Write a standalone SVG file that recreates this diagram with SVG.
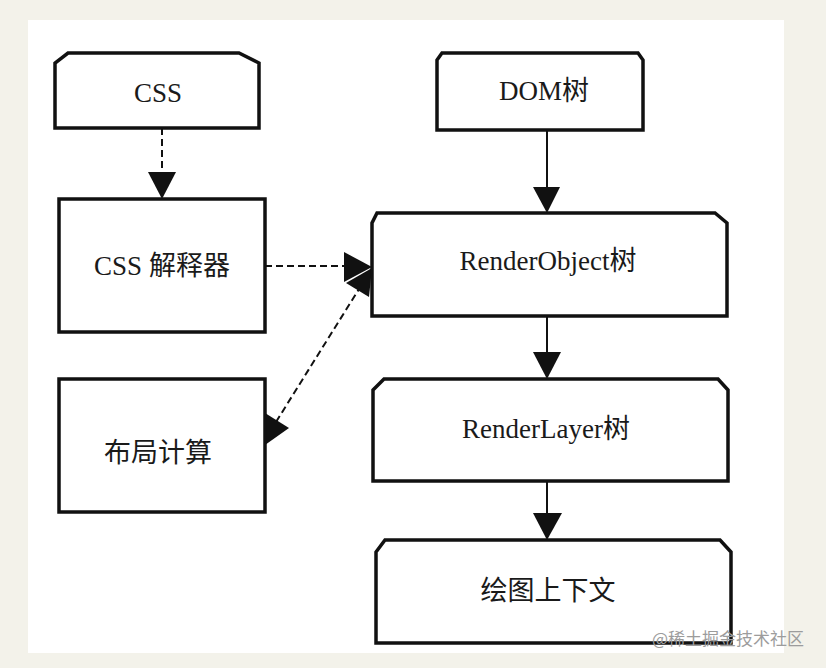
<svg xmlns="http://www.w3.org/2000/svg" width="826" height="668" viewBox="0 0 826 668">
<style>
.box{fill:#fff;stroke:#111;stroke-width:3.5;stroke-linejoin:miter}
.lbl{font-family:"Liberation Serif","Noto Sans CJK SC",serif;font-size:27px;fill:#1a1a1a;text-anchor:middle}
.ln{stroke:#111;stroke-width:2;fill:none}
.dash{stroke-dasharray:7 4}
.head{fill:#111;stroke:none}
</style>
<rect x="0" y="0" width="826" height="668" fill="#f3f2ea"/>
<rect x="28" y="20" width="756" height="633" fill="#ffffff"/>
<g id="connectors">
<line class="ln dash" x1="162" y1="128" x2="162" y2="174"/>
<polygon class="head" points="148,172 176,172 162,199"/>
<line class="ln" x1="547" y1="130" x2="547" y2="188"/>
<polygon class="head" points="533,187 560,187 547,213"/>
<line class="ln dash" x1="265" y1="266" x2="345" y2="266"/>
<polygon class="head" points="344,252 372,267 344,282"/>
<line class="ln dash" x1="276" y1="422" x2="359" y2="289"/>
<polygon class="head" points="346,283 372,268 369,297"/>
<polygon class="head" points="265,413 289,428 265,445"/>
<line class="ln" x1="547" y1="316" x2="547" y2="353"/>
<polygon class="head" points="533,352 561,352 547,379"/>
<line class="ln" x1="547" y1="481" x2="547" y2="514"/>
<polygon class="head" points="533,513 562,513 547,540"/>
</g>
<g id="css">
<path class="box" d="M55,128 V63 L68,53 H239 L259,63 V128 Z"/>
<text class="lbl" x="158" y="102">CSS</text>
</g>
<g id="dom">
<path class="box" d="M437,130 V60 L442,53 H638 L643,60 V130 Z"/>
<text class="lbl" x="544" y="100">DOM树</text>
</g>
<g id="css-parser">
<rect class="box" x="59" y="199" width="206" height="133"/>
<text class="lbl" x="162" y="275">CSS 解释器</text>
</g>
<g id="layout">
<rect class="box" x="59" y="379" width="206" height="133"/>
<text class="lbl" x="158" y="462">布局计算</text>
</g>
<g id="render-object">
<path class="box" d="M372,316 V223 L377,213 H715 L727,223 V316 Z"/>
<text class="lbl" x="548" y="270">RenderObject树</text>
</g>
<g id="render-layer">
<path class="box" d="M373,481 V390 L384,379 H718 L728,390 V481 Z"/>
<text class="lbl" x="546" y="438">RenderLayer树</text>
</g>
<g id="context">
<path class="box" d="M376,643 V552 L385,540 H720 L731,552 V643 Z"/>
<text class="lbl" x="548" y="600">绘图上下文</text>
</g>
<text x="652" y="645" font-family="'Noto Sans CJK SC',sans-serif" font-size="17" fill="#9c9c9c">@稀土掘金技术社区</text>
</svg>
